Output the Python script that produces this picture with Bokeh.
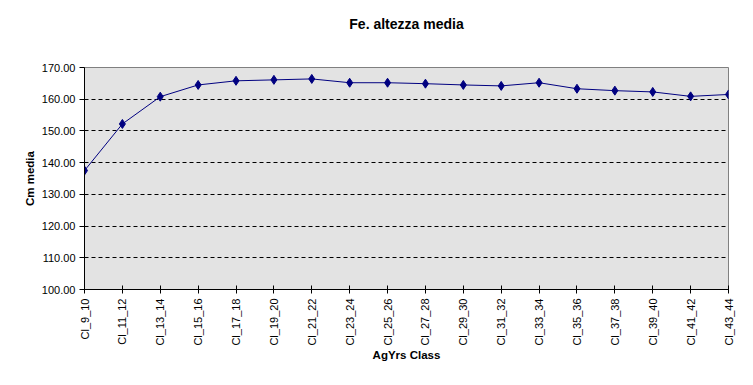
from bokeh.plotting import figure
from bokeh.models import Range1d, FixedTicker, NumeralTickFormatter, ColumnDataSource, Title
from bokeh.embed import file_html
from bokeh.resources import INLINE

categories = ["Cl_9_10", "Cl_11_12", "Cl_13_14", "Cl_15_16", "Cl_17_18", "Cl_19_20",
              "Cl_21_22", "Cl_23_24", "Cl_25_26", "Cl_27_28", "Cl_29_30", "Cl_31_32",
              "Cl_33_34", "Cl_35_36", "Cl_37_38", "Cl_39_40", "Cl_41_42", "Cl_43_44"]
cm_media = [137.5, 152.2, 160.8, 164.5, 165.8, 166.1, 166.4, 165.2, 165.2, 164.9,
            164.5, 164.2, 165.2, 163.3, 162.7, 162.3, 160.9, 161.5]
y_ticks = [100, 110, 120, 130, 140, 150, 160, 170]
title_text = "Fe. altezza media"

idx = list(range(len(categories)))
src = ColumnDataSource(dict(x=idx, y=cm_media, cat=categories))

W, H = 745, 377
p = figure(width=W, height=H, output_backend="svg", toolbar_location=None,
           x_range=Range1d(0, len(categories) - 1), y_range=Range1d(100, 170),
           title=None)
p.min_border_left = 84
p.min_border_right = 17
p.min_border_top = 67
p.min_border_bottom = 88
p.border_fill_color = "white"
p.outline_line_color = "#808080"
p.outline_line_width = 1

# spacer (closest to the frame), then the real title above it
spacer = Title(text=" ", text_font_size="12px", standoff=20)
p.add_layout(spacer, "above")
main_title = Title(text=title_text, align="center", offset=-30,
                   text_font="Liberation Sans", text_font_size="14px",
                   text_font_style="bold", text_color="black", standoff=0)
p.add_layout(main_title, "above")

# plot area background
p.background_fill_color = "#E3E3E3"

# x axis
p.xaxis.ticker = FixedTicker(ticks=idx)
p.xaxis.major_label_overrides = {i: c for i, c in zip(idx, categories)}
p.xaxis.major_label_orientation = 1.5708
p.xaxis.major_label_text_font = "Liberation Sans"
p.xaxis.major_label_text_font_size = "11px"
p.xaxis.major_label_text_color = "black"
p.xaxis.major_tick_in = 4
p.xaxis.major_tick_out = 4
p.xaxis.minor_tick_line_color = None
p.xaxis.axis_line_color = "black"
p.xaxis.major_tick_line_color = "black"
p.xaxis.axis_label = "AgYrs Class"
p.xaxis.axis_label_text_font = "Liberation Sans"
p.xaxis.axis_label_text_font_size = "11.5px"
p.xaxis.axis_label_text_font_style = "bold"
p.xaxis.axis_label_text_color = "black"
p.xaxis.axis_label_standoff = 0

# y axis
p.yaxis.ticker = FixedTicker(ticks=y_ticks)
p.yaxis.formatter = NumeralTickFormatter(format="0.00")
p.yaxis.major_label_text_font = "Liberation Sans"
p.yaxis.major_label_text_font_size = "11px"
p.yaxis.major_label_text_color = "black"
p.yaxis.major_label_standoff = 4
p.yaxis.major_tick_in = 0
p.yaxis.major_tick_out = 5
p.yaxis.minor_tick_line_color = None
p.yaxis.axis_line_color = "black"
p.yaxis.major_tick_line_color = "black"
p.yaxis.axis_label = "Cm media"
p.yaxis.axis_label_text_font = "Liberation Sans"
p.yaxis.axis_label_text_font_size = "11.5px"
p.yaxis.axis_label_text_font_style = "bold"
p.yaxis.axis_label_text_color = "black"
p.yaxis.axis_label_standoff = 3

p.xgrid.grid_line_color = None
p.ygrid.ticker = FixedTicker(ticks=y_ticks[1:-1])
p.ygrid.grid_line_color = "black"
p.ygrid.grid_line_dash = "4 3"
p.ygrid.grid_line_width = 1

p.line("x", "y", source=src, line_color="#000080", line_width=1)
p.scatter("x", "y", source=src, marker="diamond", size=9,
          fill_color="#000080", line_color="#000080")

open("out.html", "w").write(file_html(p, INLINE))
